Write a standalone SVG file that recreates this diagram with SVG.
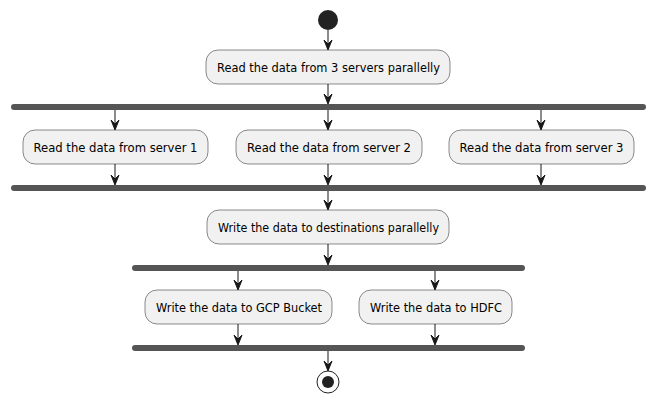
<svg xmlns="http://www.w3.org/2000/svg" width="656" height="402" viewBox="0 0 656 402">
<style>
.box{fill:#F1F1F1;stroke:#181818;stroke-width:0.5}
.bar{fill:#555555;stroke:none}
.lbl{font-family:"DejaVu Sans",Verdana,sans-serif;font-size:11.8px;fill:#000;text-anchor:middle}
.ln{stroke:#181818;stroke-width:1;fill:none}
.ah{fill:#181818;stroke:#181818;stroke-width:1}
</style>
<defs>
<polygon id="arr" class="ah" points="-4,-10 0,0 4,-10 0,-6"/>
</defs>
<rect width="656" height="402" fill="#FFFFFF"/>
<g id="start"><circle cx="328" cy="20" r="10" fill="#222222"/></g>
<g id="a1"><rect class="box" x="206" y="50" width="244" height="34" rx="12"/><text class="lbl" x="328.5" y="71.5" textLength="223" lengthAdjust="spacingAndGlyphs">Read the data from 3 servers parallelly</text></g>
<g id="fork1"><rect class="bar" x="11" y="104" width="635" height="6" rx="3"/></g>
<g id="s1"><rect class="box" x="23" y="130" width="185" height="34" rx="12"/><text class="lbl" x="115.5" y="151.5" textLength="164" lengthAdjust="spacingAndGlyphs">Read the data from server 1</text></g>
<g id="s2"><rect class="box" x="236" y="130" width="186" height="34" rx="12"/><text class="lbl" x="329" y="151.5" textLength="164" lengthAdjust="spacingAndGlyphs">Read the data from server 2</text></g>
<g id="s3"><rect class="box" x="449" y="130" width="185" height="34" rx="12"/><text class="lbl" x="541.5" y="151.5" textLength="164" lengthAdjust="spacingAndGlyphs">Read the data from server 3</text></g>
<g id="join1"><rect class="bar" x="11" y="185" width="635" height="6" rx="3"/></g>
<g id="a2"><rect class="box" x="207" y="210" width="242" height="34" rx="12"/><text class="lbl" x="328.5" y="231.5" textLength="221" lengthAdjust="spacingAndGlyphs">Write the data to destinations parallelly</text></g>
<g id="fork2"><rect class="bar" x="132" y="265" width="393" height="6" rx="3"/></g>
<g id="gcp"><rect class="box" x="145" y="290" width="187" height="34" rx="12"/><text class="lbl" x="239" y="311.5" textLength="166" lengthAdjust="spacingAndGlyphs">Write the data to GCP Bucket</text></g>
<g id="hdfc"><rect class="box" x="359" y="290" width="153" height="34" rx="12"/><text class="lbl" x="436" y="311.5" textLength="132" lengthAdjust="spacingAndGlyphs">Write the data to HDFC</text></g>
<g id="join2"><rect class="bar" x="132" y="345" width="393" height="6" rx="3"/></g>
<g id="end"><circle cx="328" cy="382" r="11" fill="none" stroke="#222222" stroke-width="1"/><circle cx="328" cy="382" r="6" fill="#222222"/></g>
<g id="connectors">
<line class="ln" x1="328" y1="30" x2="328" y2="49"/><use href="#arr" x="328" y="50"/>
<line class="ln" x1="328" y1="84" x2="328" y2="103"/><use href="#arr" x="328" y="104"/>
<line class="ln" x1="115" y1="110" x2="115" y2="129"/><use href="#arr" x="115" y="130"/>
<line class="ln" x1="328" y1="110" x2="328" y2="129"/><use href="#arr" x="328" y="130"/>
<line class="ln" x1="541" y1="110" x2="541" y2="129"/><use href="#arr" x="541" y="130"/>
<line class="ln" x1="115" y1="164" x2="115" y2="184"/><use href="#arr" x="115" y="185"/>
<line class="ln" x1="328" y1="164" x2="328" y2="184"/><use href="#arr" x="328" y="185"/>
<line class="ln" x1="541" y1="164" x2="541" y2="184"/><use href="#arr" x="541" y="185"/>
<line class="ln" x1="328" y1="191" x2="328" y2="209"/><use href="#arr" x="328" y="210"/>
<line class="ln" x1="328" y1="244" x2="328" y2="264"/><use href="#arr" x="328" y="265"/>
<line class="ln" x1="238" y1="271" x2="238" y2="289"/><use href="#arr" x="238" y="290"/>
<line class="ln" x1="435" y1="271" x2="435" y2="289"/><use href="#arr" x="435" y="290"/>
<line class="ln" x1="238" y1="324" x2="238" y2="344"/><use href="#arr" x="238" y="345"/>
<line class="ln" x1="435" y1="324" x2="435" y2="344"/><use href="#arr" x="435" y="345"/>
<line class="ln" x1="328" y1="351" x2="328" y2="370"/><use href="#arr" x="328" y="371"/>
</g>
</svg>
